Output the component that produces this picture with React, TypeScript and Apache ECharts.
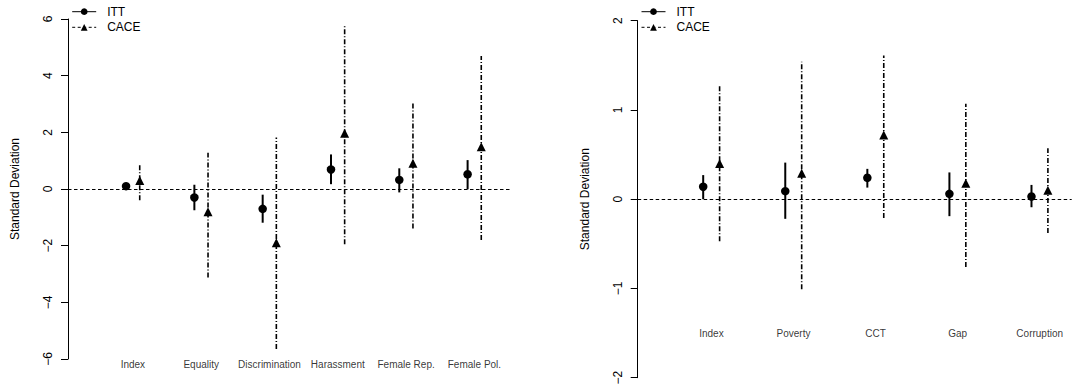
import React, { useEffect, useRef } from 'react';
import * as echarts from 'echarts';

// ---------- data ----------
const leftCategories = ['Index', 'Equality', 'Discrimination', 'Harassment', 'Female Rep.', 'Female Pol.'];
const leftITT = [0.10, -0.30, -0.70, 0.69, 0.32, 0.52];
const leftITTLow = [-0.02, -0.75, -1.19, 0.17, -0.12, -0.01];
const leftITTHigh = [0.22, 0.15, -0.20, 1.22, 0.73, 1.02];
const leftCACE = [0.30, -0.80, -1.90, 1.97, 0.91, 1.49];
const leftCACELow = [-0.40, -3.12, -5.65, -1.95, -1.39, -1.80];
const leftCACEHigh = [0.85, 1.28, 1.82, 5.81, 3.02, 4.69];

const rightCategories = ['Index', 'Poverty', 'CCT', 'Gap', 'Corruption'];
const rightITT = [0.14, 0.09, 0.24, 0.06, 0.03];
const rightITTLow = [0.00, -0.22, 0.13, -0.19, -0.09];
const rightITTHigh = [0.27, 0.41, 0.34, 0.30, 0.16];
const rightCACE = [0.40, 0.29, 0.72, 0.18, 0.10];
const rightCACELow = [-0.47, -1.01, -0.21, -0.76, -0.38];
const rightCACEHigh = [1.27, 1.54, 1.61, 1.07, 0.57];

const leftTicks = { min: -6, max: 6, interval: 2 };
const rightTicks = { min: -2, max: 2, interval: 1 };
const leftLabelY = -6.18;
const rightLabelY = -1.5;

// ---------- helpers ----------
const FONT = '"Liberation Sans", Arial, Helvetica, sans-serif';
const OFFSET = 0.1;
const DOTDASH = [5, 2, 1, 2];

const pts = (vals: number[], off: number) => vals.map((v, i) => [i + 1 + off, v]);
const bars = (lo: number[], hi: number[], off: number) => lo.map((l, i) => [i + 1 + off, l, hi[i]]);

const whisker = (width: number, dash: any) => (params: any, api: any) => {
  const x = api.value(0);
  const p1 = api.coord([x, api.value(1)]);
  const p2 = api.coord([x, api.value(2)]);
  return {
    type: 'line',
    shape: { x1: p1[0], y1: p1[1], x2: p2[0], y2: p2[1] },
    style: { stroke: '#000', lineWidth: width, lineDash: dash, fill: null },
  };
};

const fmtTick = (v: number) => (v < 0 ? '\u2212' + Math.abs(v) : String(v));

const yAxisFor = (gridIndex: number, t: { min: number; max: number; interval: number }) => ({
  type: 'value',
  gridIndex,
  min: t.min,
  max: t.max,
  interval: t.interval,
  name: 'Standard Deviation',
  nameLocation: 'middle',
  nameGap: 47,
  nameRotate: 90,
  nameTextStyle: { fontFamily: FONT, fontSize: 12, color: '#000' },
  axisLine: { show: true, lineStyle: { color: '#000', width: 1 } },
  axisTick: { show: true, length: 7, lineStyle: { color: '#000', width: 1 } },
  axisLabel: { rotate: 90, margin: 14, fontFamily: FONT, fontSize: 12, color: '#000', formatter: fmtTick },
  splitLine: { show: false },
});

const xAxisFor = (gridIndex: number, min: number, max: number) => ({
  type: 'value',
  gridIndex,
  min,
  max,
  show: false,
  splitLine: { show: false },
});

const panelSeries = (
  idx: number,
  cats: string[],
  itt: number[], ittLo: number[], ittHi: number[],
  cace: number[], caceLo: number[], caceHi: number[],
  labelY: number,
) => [
  {
    type: 'line',
    name: 'ITT',
    xAxisIndex: idx,
    yAxisIndex: idx,
    data: pts(itt, -OFFSET),
    symbol: 'circle',
    symbolSize: 8.5,
    showSymbol: true,
    itemStyle: { color: '#000' },
    lineStyle: { color: '#000', width: 1, opacity: 0, type: 'solid' },
    z: 4,
    silent: true,
    markLine: {
      silent: true,
      symbol: ['none', 'none'],
      label: { show: false },
      lineStyle: { color: '#000', width: 1, type: [3.5, 2.5], opacity: 1 },
      data: [{ yAxis: 0 }],
    },
  },
  {
    type: 'line',
    name: 'CACE',
    xAxisIndex: idx,
    yAxisIndex: idx,
    data: pts(cace, OFFSET),
    symbol: 'triangle',
    symbolSize: 9,
    showSymbol: true,
    itemStyle: { color: '#000' },
    lineStyle: { color: '#000', width: 1, opacity: 0, type: [3, 2] },
    z: 4,
    silent: true,
  },
  {
    type: 'custom',
    name: 'ITT interval',
    xAxisIndex: idx,
    yAxisIndex: idx,
    data: bars(ittLo, ittHi, -OFFSET),
    encode: { x: 0, y: [1, 2] },
    renderItem: whisker(2, null),
    z: 2,
    silent: true,
  },
  {
    type: 'custom',
    name: 'CACE interval',
    xAxisIndex: idx,
    yAxisIndex: idx,
    data: bars(caceLo, caceHi, OFFSET),
    encode: { x: 0, y: [1, 2] },
    renderItem: whisker(1.6, DOTDASH),
    z: 2,
    silent: true,
  },
  {
    type: 'scatter',
    name: 'labels' + idx,
    xAxisIndex: idx,
    yAxisIndex: idx,
    data: cats.map((c, i) => [i + 1, labelY]),
    symbolSize: 1,
    itemStyle: { color: 'rgba(0,0,0,0)' },
    clip: false,
    silent: true,
    label: {
      show: true,
      position: 'inside',
      fontFamily: FONT,
      fontSize: 10,
      color: '#000',
      textBorderWidth: 0,
      textBorderColor: 'transparent',
      formatter: (p: any) => cats[p.dataIndex],
    },
  },
];

const legendData = [
  { name: 'ITT', lineStyle: { type: 'solid', width: 1, opacity: 1, color: '#000' } },
  { name: 'CACE', lineStyle: { type: [3, 2.5], width: 1, opacity: 1, color: '#000' } },
];

const legendFor = (left: number, top: number) => ({
  orient: 'vertical',
  left,
  top,
  padding: 0,
  itemWidth: 24,
  itemHeight: 8.4,
  itemGap: 1.6,
  selectedMode: false,
  textStyle: { fontFamily: FONT, fontSize: 12, color: '#000', lineHeight: 14, padding: [0, 0, 0, 6] },
  data: legendData,
});

export default function App() {
  const ref = useRef<HTMLDivElement>(null);
  useEffect(() => {
    if (!ref.current) return;
    const chart = echarts.init(ref.current, null, { renderer: 'svg' });
    const option: any = {
      animation: false,
      backgroundColor: '#fff',
      textStyle: { fontFamily: FONT },
      grid: [
        { left: 68, top: 19, width: 444, height: 340, containLabel: false, outerBoundsMode: 'none' },
        { left: 637.7, top: 20.7, width: 434, height: 357, containLabel: false, outerBoundsMode: 'none' },
      ],
      xAxis: [xAxisFor(0, 0.05, 6.55), xAxisFor(1, 0.102, 5.39)],
      yAxis: [yAxisFor(0, leftTicks), yAxisFor(1, rightTicks)],
      legend: [legendFor(71.7, 4.7), legendFor(641, 4.7)],
      series: [
        ...panelSeries(0, leftCategories, leftITT, leftITTLow, leftITTHigh, leftCACE, leftCACELow, leftCACEHigh, leftLabelY),
        ...panelSeries(1, rightCategories, rightITT, rightITTLow, rightITTHigh, rightCACE, rightCACELow, rightCACEHigh, rightLabelY),
      ],
    };
    chart.setOption(option);
    return () => chart.dispose();
  }, []);
  return (
    <div
      ref={ref}
      style={{ position: 'fixed', left: 0, top: 0, width: 1073, height: 385, background: '#fff' }}
    />
  );
}
